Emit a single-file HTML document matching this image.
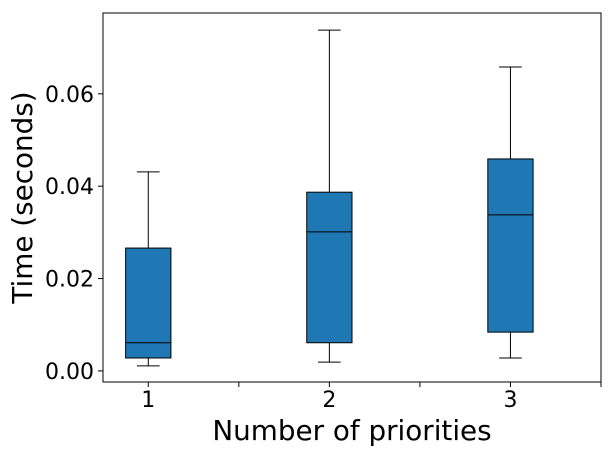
<!DOCTYPE html>
<html><head><meta charset="utf-8"><style>
body{margin:0;background:#fff;}
svg text{font-family:"DejaVu Sans","Liberation Sans",sans-serif;fill:#000;}
</style></head><body>
<svg id="chart" width="612" height="456" viewBox="0 0 612 456">
<g id="marks"></g>
<g id="axes"></g>
</svg>
<script>
const categories=["1","2","3"];
const whiskerLow=[0.0011,0.0019,0.0028];
const q1=[0.0028,0.0061,0.0084];
const medians=[0.0061,0.0301,0.0338];
const q3=[0.0266,0.0387,0.0459];
const whiskerHigh=[0.0431,0.0738,0.0658];
const yTicks=[0,0.02,0.04,0.06];
const yTickLabels=["0.00","0.02","0.04","0.06"];

const L=103,R=601,T=13,B=382;
const xMin=0.75,xMax=3.5,yMin=-0.0024,yMax=0.0775;
const xs=v=>L+(v-xMin)/(xMax-xMin)*(R-L);
const ys=v=>B-(v-yMin)/(yMax-yMin)*(B-T);
const NS="http://www.w3.org/2000/svg";
function mk(tag,attrs,parent){const e=document.createElementNS(NS,tag);for(const k in attrs)e.setAttribute(k,attrs[k]);parent.appendChild(e);return e;}
const marks=document.getElementById('marks'),axes=document.getElementById('axes');
const bw=xs(1.125)-xs(1), cw=xs(1.0625)-xs(1);
categories.forEach((c,i)=>{
  const cx=xs(i+1);
  const g=mk('g',{},marks);
  
  
  const w1=mk('line',{x1:cx,x2:cx,y1:ys(whiskerLow[i]),y2:ys(q1[i]),stroke:'#000','stroke-width':1},g);
  
  
  const w2=mk('line',{x1:cx,x2:cx,y1:ys(q3[i]),y2:ys(whiskerHigh[i]),stroke:'#000','stroke-width':1},g);
  
  
  const c1=mk('line',{x1:cx-cw,x2:cx+cw,y1:ys(whiskerLow[i]),y2:ys(whiskerLow[i]),stroke:'#000','stroke-width':1},g);
  
  
  const c2=mk('line',{x1:cx-cw,x2:cx+cw,y1:ys(whiskerHigh[i]),y2:ys(whiskerHigh[i]),stroke:'#000','stroke-width':1},g);
  
  
  const r=mk('rect',{x:cx-bw,y:ys(q3[i]),width:2*bw,height:ys(q1[i])-ys(q3[i]),fill:'#1f77b4',stroke:'#000','stroke-width':1},g);
  
  
  const m=mk('line',{x1:cx-bw,x2:cx+bw,y1:ys(medians[i]),y2:ys(medians[i]),stroke:'#000','stroke-width':1},g);
  
  
  const t=mk('line',{x1:cx,x2:cx,y1:B,y2:B+5,stroke:'#000'},axes);
  
  
  const lb=mk('text',{x:cx,y:B+25,'font-size':22,'text-anchor':'middle'},axes);
  lb.textContent=c;
  
  
});
[1.5,2.5,3.5].forEach(v=>{
  const t=mk('line',{x1:xs(v),x2:xs(v),y1:B,y2:B+5,stroke:'#000'},axes);
  
  
});
yTicks.forEach((v,i)=>{
  const t=mk('line',{x1:L-5,x2:L,y1:ys(v),y2:ys(v),stroke:'#000'},axes);
  
  
  const lb=mk('text',{x:L-9,y:ys(v)+8,'font-size':22,'text-anchor':'end'},axes);
  lb.textContent=yTickLabels[i];
  
  
});
const fr=mk('rect',{x:L,y:T,width:R-L,height:B-T,fill:'none',stroke:'#000','stroke-width':1},axes);


const xt=mk('text',{x:(L+R)/2,y:440,'font-size':27.8,'text-anchor':'middle'},axes);
xt.textContent='Number of priorities';


const yt=mk('text',{x:0,y:0,'font-size':27.8,'text-anchor':'middle',transform:`translate(32,${(T+B)/2}) rotate(-90)`},axes);
yt.textContent='Time (seconds)';


</script>
</body></html>
